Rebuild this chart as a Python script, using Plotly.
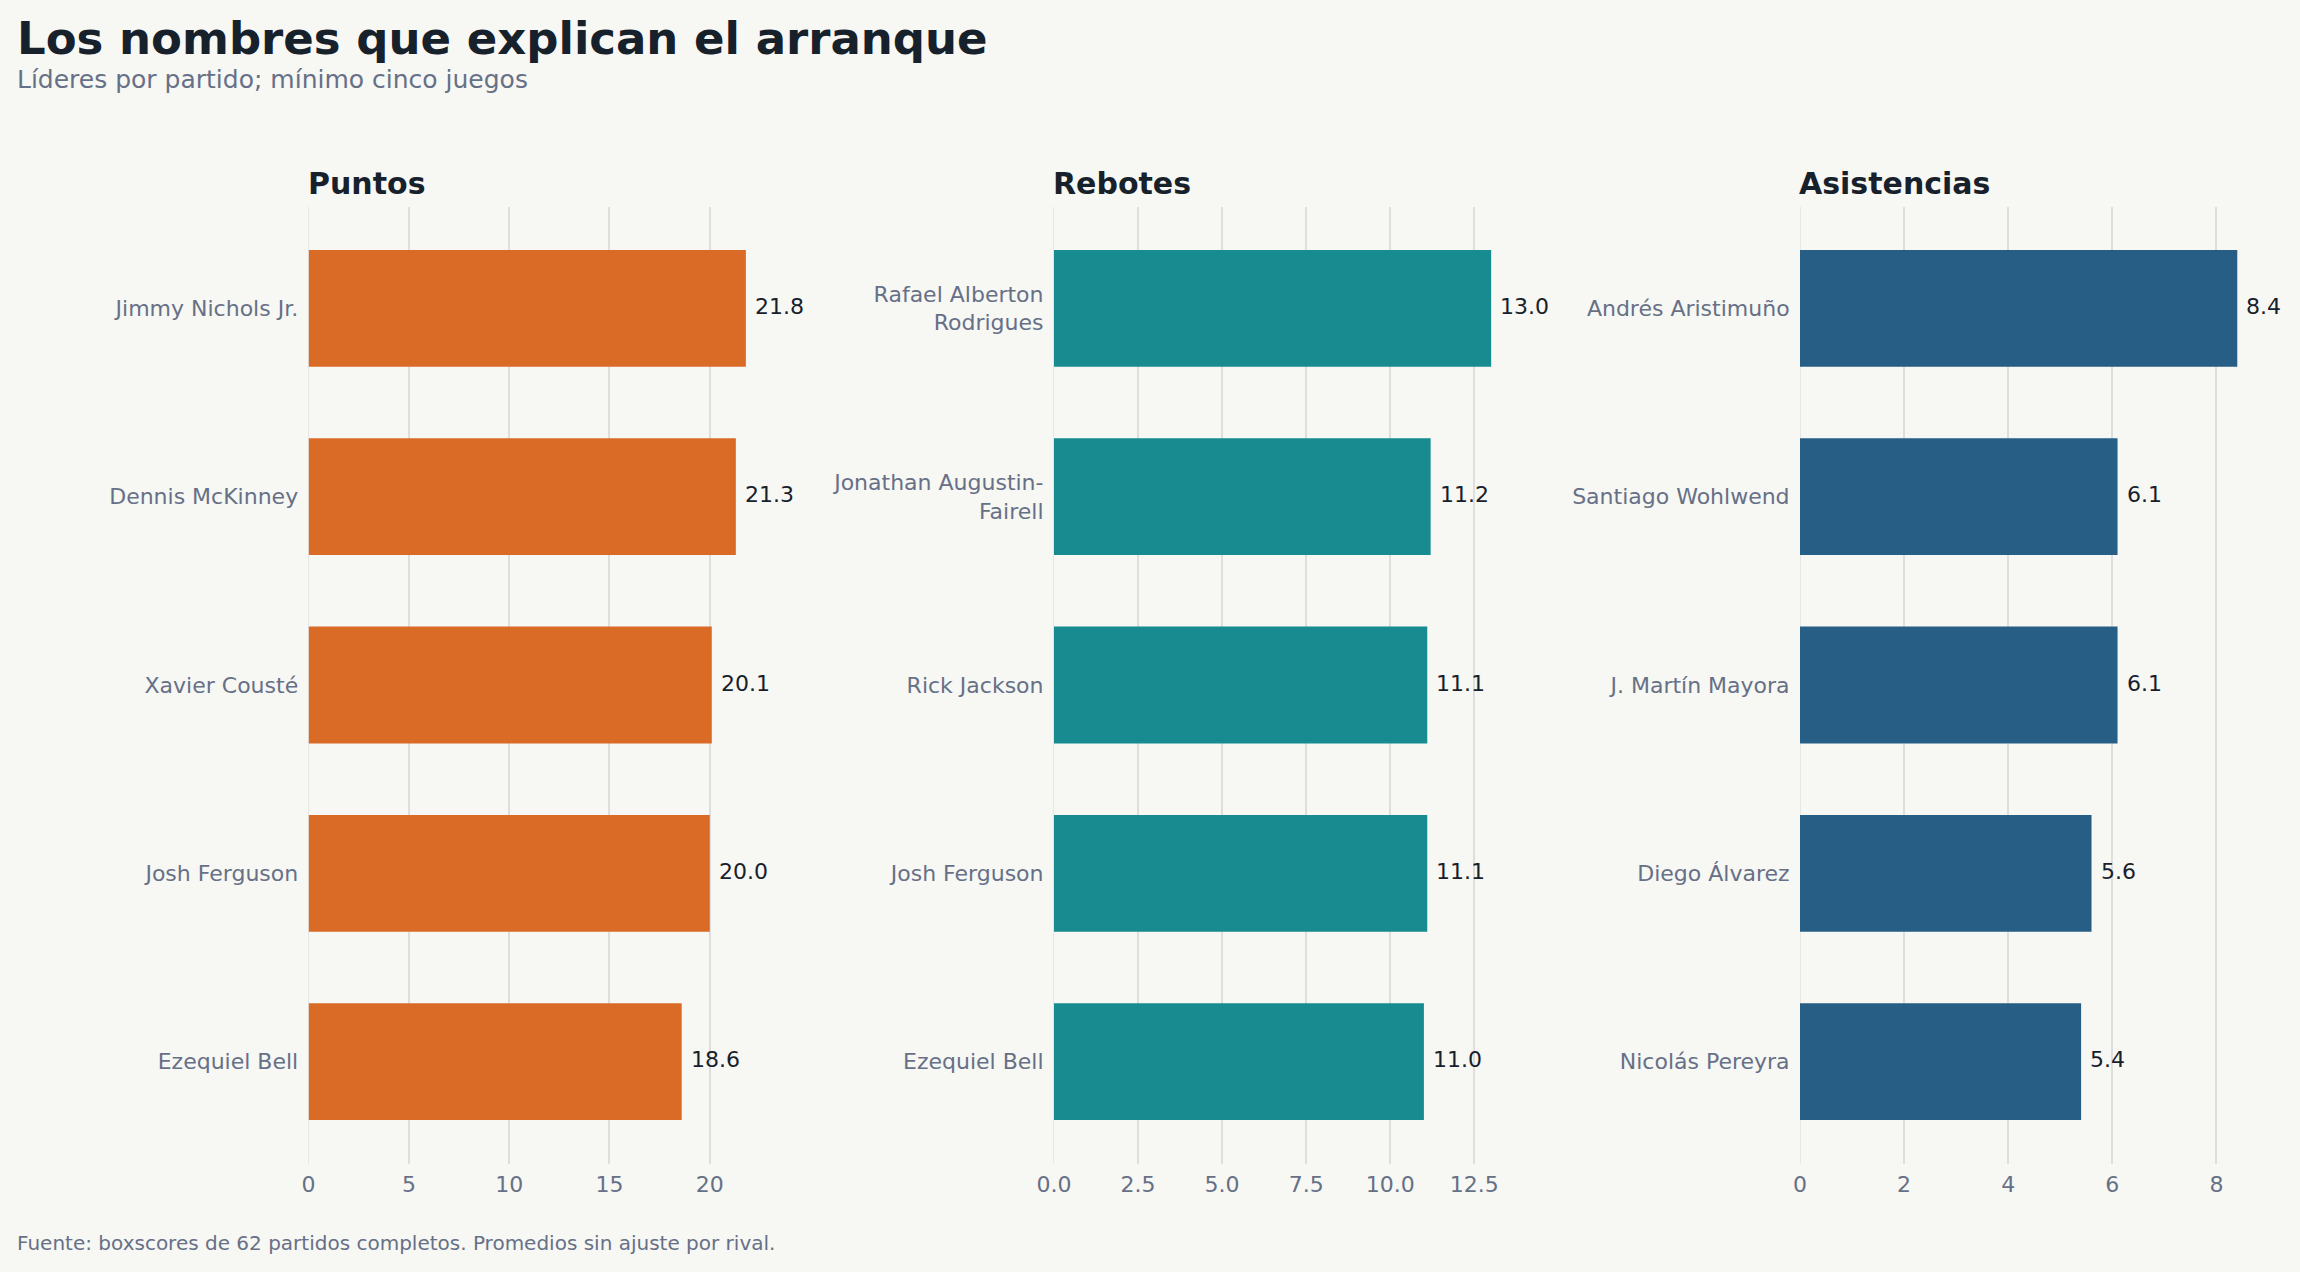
import plotly.graph_objects as go

# ---- data ----
panel_titles = ["Puntos", "Rebotes", "Asistencias"]

puntos_names = ["Jimmy Nichols Jr.", "Dennis McKinney", "Xavier Cousté", "Josh Ferguson", "Ezequiel Bell"]
puntos_vals = [21.8, 21.3, 20.1, 20.0, 18.6]

rebotes_names = ["Rafael Alberton<br>Rodrigues", "Jonathan Augustin-<br>Fairell", "Rick Jackson", "Josh Ferguson", "Ezequiel Bell"]
rebotes_vals = [13.0, 11.2, 11.1, 11.1, 11.0]

asist_names = ["Andrés Aristimuño", "Santiago Wohlwend", "J. Martín Mayora", "Diego Álvarez", "Nicolás Pereyra"]
asist_vals = [8.4, 6.1, 6.1, 5.6, 5.4]

title = "Los nombres que explican el arranque"
subtitle = "Líderes por partido; mínimo cinco juegos"
footer = "Fuente: boxscores de 62 partidos completos. Promedios sin ajuste por rival."

# ---- style ----
W, H = 2300, 1272
BG = "#F7F7F3"
FONT = "DejaVu Sans"
DARK = "#17212C"
SLATE = "#667087"
GRID = "#DEDEDE"
colors = ["#DA6B27", "#178B8F", "#275E85"]
dticks = [5, 2.5, 2]
tickfmts = ["d", ".1f", "d"]

x_domains = [(308.6, 789.6), (1053.9, 1534.9), (1800.0, 2281.0)]
y_top, y_bot = 206.5, 1163.5

def fx(px):
    return px / W

def fy(py):
    return 1 - py / H

fig = go.Figure()
annotations = []
panels = [(puntos_names, puntos_vals), (rebotes_names, rebotes_vals), (asist_names, asist_vals)]

layout_axes = {}
for i, (names, vals) in enumerate(panels):
    k = "" if i == 0 else str(i + 1)
    xa, ya = "x" + k, "y" + k
    fig.add_trace(go.Bar(
        x=vals, y=names, orientation="h", width=0.62,
        marker=dict(color=colors[i], line=dict(width=0)),
        xaxis=xa, yaxis=ya, showlegend=False, hoverinfo="skip",
    ))
    for n, v in zip(names, vals):
        annotations.append(dict(
            x=v, y=n, xref=xa, yref=ya, text=f"{v:.1f}", showarrow=False,
            xanchor="left", yanchor="middle", xshift=7, yshift=2,
            font=dict(family=FONT, size=22, color=DARK),
        ))
    x0, x1 = x_domains[i]
    layout_axes["xaxis" + k] = dict(
        domain=[fx(x0), fx(x1)], range=[0, max(vals) * 1.1], anchor=ya,
        dtick=dticks[i], tick0=0, tickformat=tickfmts[i], automargin=False,
        showgrid=True, gridcolor=GRID, gridwidth=1.5,
        zeroline=True, zerolinecolor="#E6E6E6", zerolinewidth=1,
        showline=False, ticks="outside", ticklen=1, tickcolor="rgba(0,0,0,0)",
        tickfont=dict(family=FONT, size=22, color=SLATE), fixedrange=True,
    )
    layout_axes["yaxis" + k] = dict(
        domain=[fy(y_bot), fy(y_top)], anchor=xa, type="category",
        categoryorder="array", categoryarray=names, automargin=False,
        range=[4.541, -0.541], showgrid=False, zeroline=False, showline=False,
        ticks="outside", ticklen=5, tickcolor="rgba(0,0,0,0)",
        tickfont=dict(family=FONT, size=22, color=SLATE), fixedrange=True,
    )
    annotations.append(dict(
        x=fx(x0 - 3), y=fy(183.2), xref="paper", yref="paper", text=f"<b>{panel_titles[i]}</b>",
        showarrow=False, xanchor="left", yanchor="middle",
        font=dict(family=FONT, size=30, color=DARK),
    ))

annotations.append(dict(
    x=fx(14.6), y=fy(38.5), xref="paper", yref="paper", text=f"<b>{title}</b>",
    showarrow=False, xanchor="left", yanchor="middle",
    font=dict(family=FONT, size=45, color=DARK),
))
annotations.append(dict(
    x=fx(14.6), y=fy(79.4), xref="paper", yref="paper", text=subtitle,
    showarrow=False, xanchor="left", yanchor="middle",
    font=dict(family=FONT, size=25, color=SLATE),
))
annotations.append(dict(
    x=fx(14.6), y=fy(1243), xref="paper", yref="paper", text=footer,
    showarrow=False, xanchor="left", yanchor="middle",
    font=dict(family=FONT, size=20, color=SLATE),
))

fig.update_layout(
    width=W, height=H, margin=dict(l=0, r=0, t=0, b=0, autoexpand=False),
    paper_bgcolor=BG, plot_bgcolor=BG,
    font=dict(family=FONT, color=SLATE),
    annotations=annotations, bargap=0.38,
    **layout_axes,
)

fig.write_html("out.html", config={"displayModeBar": False})
